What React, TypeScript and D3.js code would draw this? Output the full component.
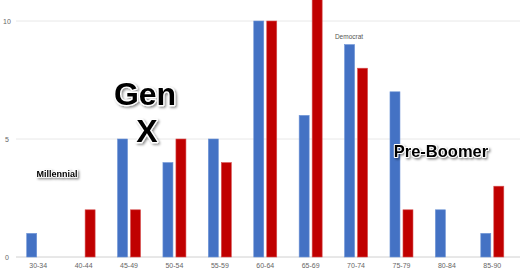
import React from "react";
import * as d3 from "d3";

const categories = ["30-34", "40-44", "45-49", "50-54", "55-59", "60-64", "65-69", "70-74", "75-79", "80-84", "85-90"];
const democrat = [1, 0, 5, 4, 5, 10, 6, 9, 7, 2, 1];
const republican = [0, 2, 2, 5, 4, 10, 11, 8, 2, 0, 3];
const yTicks = [0, 5, 10];

const W = 520, H = 272;

export default function App() {
  const x = d3.scaleBand<string>().domain(categories).range([15.5, 515]).padding(0);
  const y = d3.scaleLinear().domain([0, 10]).range([257, 21]);
  const bw = 10;
  const blue = "#4472C4";
  const red = "#C00000";
  return (
    <svg width={W} height={H} style={{ position: "absolute", left: 0, top: 0, background: "#fff" }}
      fontFamily="'Liberation Sans', Arial, sans-serif">
      <defs>
        <filter id="sh" x="-20%" y="-20%" width="140%" height="160%">
          <feDropShadow dx="1.5" dy="1.5" stdDeviation="1" floodColor="#000" floodOpacity="0.45" />
        </filter>
      </defs>
      {yTicks.map((t) => (
        <g key={t}>
          <line x1={16} x2={W} y1={y(t)} y2={y(t)} stroke={t === 0 ? "#d0d0d0" : "#e8e8e8"} strokeWidth={1} />
          <text x={t === 10 ? 3 : 5} y={y(t) + 2.5} fontSize={7} fill="#666">{t}</text>
        </g>
      ))}
      {categories.map((c, i) => {
        const cx = (x(c) as number) + x.bandwidth() / 2;
        return (
          <g key={c}>
            {democrat[i] > 0 && (
              <rect x={cx - 11.5} y={y(democrat[i])} width={bw} height={y(0) - y(democrat[i])}
                fill={blue} stroke="#6d93d6" strokeWidth={0.6} />
            )}
            {republican[i] > 0 && (
              <rect x={cx + 1.5} y={y(republican[i])} width={bw} height={y(0) - y(republican[i])}
                fill={red} stroke="#d65050" strokeWidth={0.6} />
            )}
            <text x={cx} y={268} fontSize={7} fill="#666" textAnchor="middle">{c}</text>
          </g>
        );
      })}
      <text x={349} y={39} fontSize={6.5} fill="#555" textAnchor="middle">Democrat</text>
      <g fontWeight="bold" fill="#000" stroke="#fff" strokeLinejoin="round" style={{ paintOrder: "stroke" }} filter="url(#sh)">
        <text x={145} y={105} fontSize={32} strokeWidth={2.5} textAnchor="middle">Gen</text>
        <text x={147} y={142} fontSize={32} strokeWidth={2.5} textAnchor="middle">X</text>
        <text x={57} y={177} fontSize={9} strokeWidth={1.5} textAnchor="middle">Millennial</text>
        <text x={441} y={157} fontSize={16.5} strokeWidth={2} textAnchor="middle">Pre-Boomer</text>
      </g>
    </svg>
  );
}
